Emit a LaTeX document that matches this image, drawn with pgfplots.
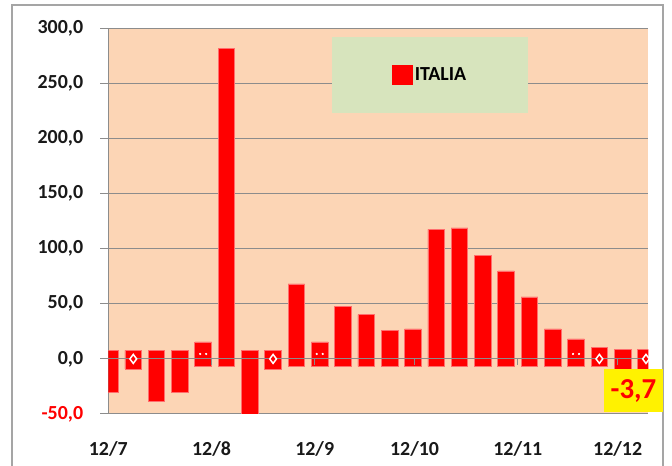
\documentclass[border=0pt]{standalone}
\usepackage{pgfplots}
\pgfplotsset{compat=1.18}
\usepackage{pgfplotstable}
\usepackage{fontspec}
\setmainfont{Carlito}
\definecolor{peach}{RGB}{252,213,181}
\definecolor{legendgreen}{RGB}{215,228,189}
\definecolor{gridgray}{RGB}{140,140,140}
\definecolor{barred}{RGB}{255,0,0}
\definecolor{baredge}{RGB}{255,110,110}
\definecolor{bordergray}{RGB}{165,165,165}

% x = days from 1 July 2012; lo/hi = lower and upper ends of each bar
\pgfplotstableread{
x     lo     hi
0.5   -30.8  7.8
7.5   -9.1   7.8
14.5  -38.4  7.8
21.5  -30.8  7.8
28.5  -6.7   15.4
35.5  -6.7   282.0
42.5  -60.0  7.8
49.5  -9.1   7.8
56.5  -6.7   68.0
63.5  -6.7   15.4
70.5  -6.7   47.4
77.5  -6.7   40.2
84.5  -6.7   25.7
91.5  -6.7   27.2
98.5  -6.7   117.5
105.5 -6.7   118.8
112.5 -6.7   93.9
119.5 -6.7   79.8
126.5 -6.7   56.2
133.5 -6.7   27.2
140.5 -6.7   18.1
147.5 -6.7   10.0
154.5 -9.1   8.2
161.5 -9.1   8.2
}\bars

\pgfplotstableread{
x     y
7.5   0
49.5  0
147.5 0
161.5 0
}\diamondpts

\pgfplotstableread{
x     y
27.6  4.5
29.4  4.5
62.6  4.5
64.4  4.5
139.6 4.5
141.4 4.5
}\dotpts

\begin{document}
\begin{tikzpicture}
\useasboundingbox (0,0) rectangle (672bp,466bp);
\draw[bordergray, line width=1.2bp] (12bp,461bp) rectangle (663bp,-20bp);
\begin{axis}[
  at={(108.3bp,52bp)}, anchor=south west,
  scale only axis, width=540bp, height=385.7bp,
  xmin=0, xmax=162.2, ymin=-50, ymax=300,
  axis background/.style={fill=peach},
  axis lines*=left,
  axis line style={gridgray, line width=1bp},
  ymajorgrids, major grid style={gridgray, line width=1bp},
  ytick={0,50,...,300},
  extra y ticks={-50},
  extra y tick style={yticklabel style={text=red}},
  tick align=outside,
  major tick length=8bp,
  ytick style={gridgray, line width=1bp},
  xtick style={draw=none},
  xtick={0,31,62,92,123,153},
  xticklabels={12/7,12/8,12/9,12/10,12/11,12/12},
  tick label style={font=\bfseries\fontsize{20}{22}\selectfont, text=black!90},
  /pgf/number format/fixed,
  /pgf/number format/fixed zerofill,
  /pgf/number format/precision=1,
  /pgf/number format/use comma,
  /pgf/number format/1000 sep={},
  /pgf/number format/assume math mode=true,
  yticklabel style={anchor=east, inner sep=0pt, xshift=-17bp},
  xticklabel style={anchor=north, inner sep=0pt, yshift=-19bp},
  legend style={at={(0.596,0.879)}, anchor=center, fill=legendgreen, draw=none,
    inner xsep=60bp, inner ysep=28.5bp,
    font=\bfseries\fontsize{20}{22}\selectfont},
  legend image code/.code={\fill[barred] (-2bp,-9.5bp) rectangle (18bp,9.5bp);},
]
\addplot[ybar, bar width=5, bar shift=0pt, fill=barred, draw=baredge, line width=0.8bp, forget plot]
  table[x=x, y=lo]{\bars};
\addplot[ybar, bar width=5, bar shift=0pt, fill=barred, draw=baredge, line width=0.8bp]
  table[x=x, y=hi]{\bars};
\addlegendentry{ITALIA}
\draw[gridgray, line width=1bp] (axis cs:0,0) -- (axis cs:162.2,0);
\pgfplotsinvokeforeach{31,62,92,123,153}{
  \draw[gridgray, line width=1bp] (axis cs:#1,0) -- ++(0bp,-6.5bp);
}
\addplot[only marks, mark=diamond*, mark size=4.5bp, draw=white, fill=barred, line width=1.5bp, forget plot]
  table[x=x, y=y]{\diamondpts};
\addplot[only marks, mark=*, mark size=0.9bp, draw=white, fill=white, forget plot]
  table[x=x, y=y]{\dotpts};
\end{axis}
\node[fill=yellow, text=red, font=\bfseries\fontsize{29}{30}\selectfont,
  minimum width=59bp, minimum height=43bp, inner sep=0pt] at (633.5bp,75.5bp) {-3,7};
\end{tikzpicture}
\end{document}
